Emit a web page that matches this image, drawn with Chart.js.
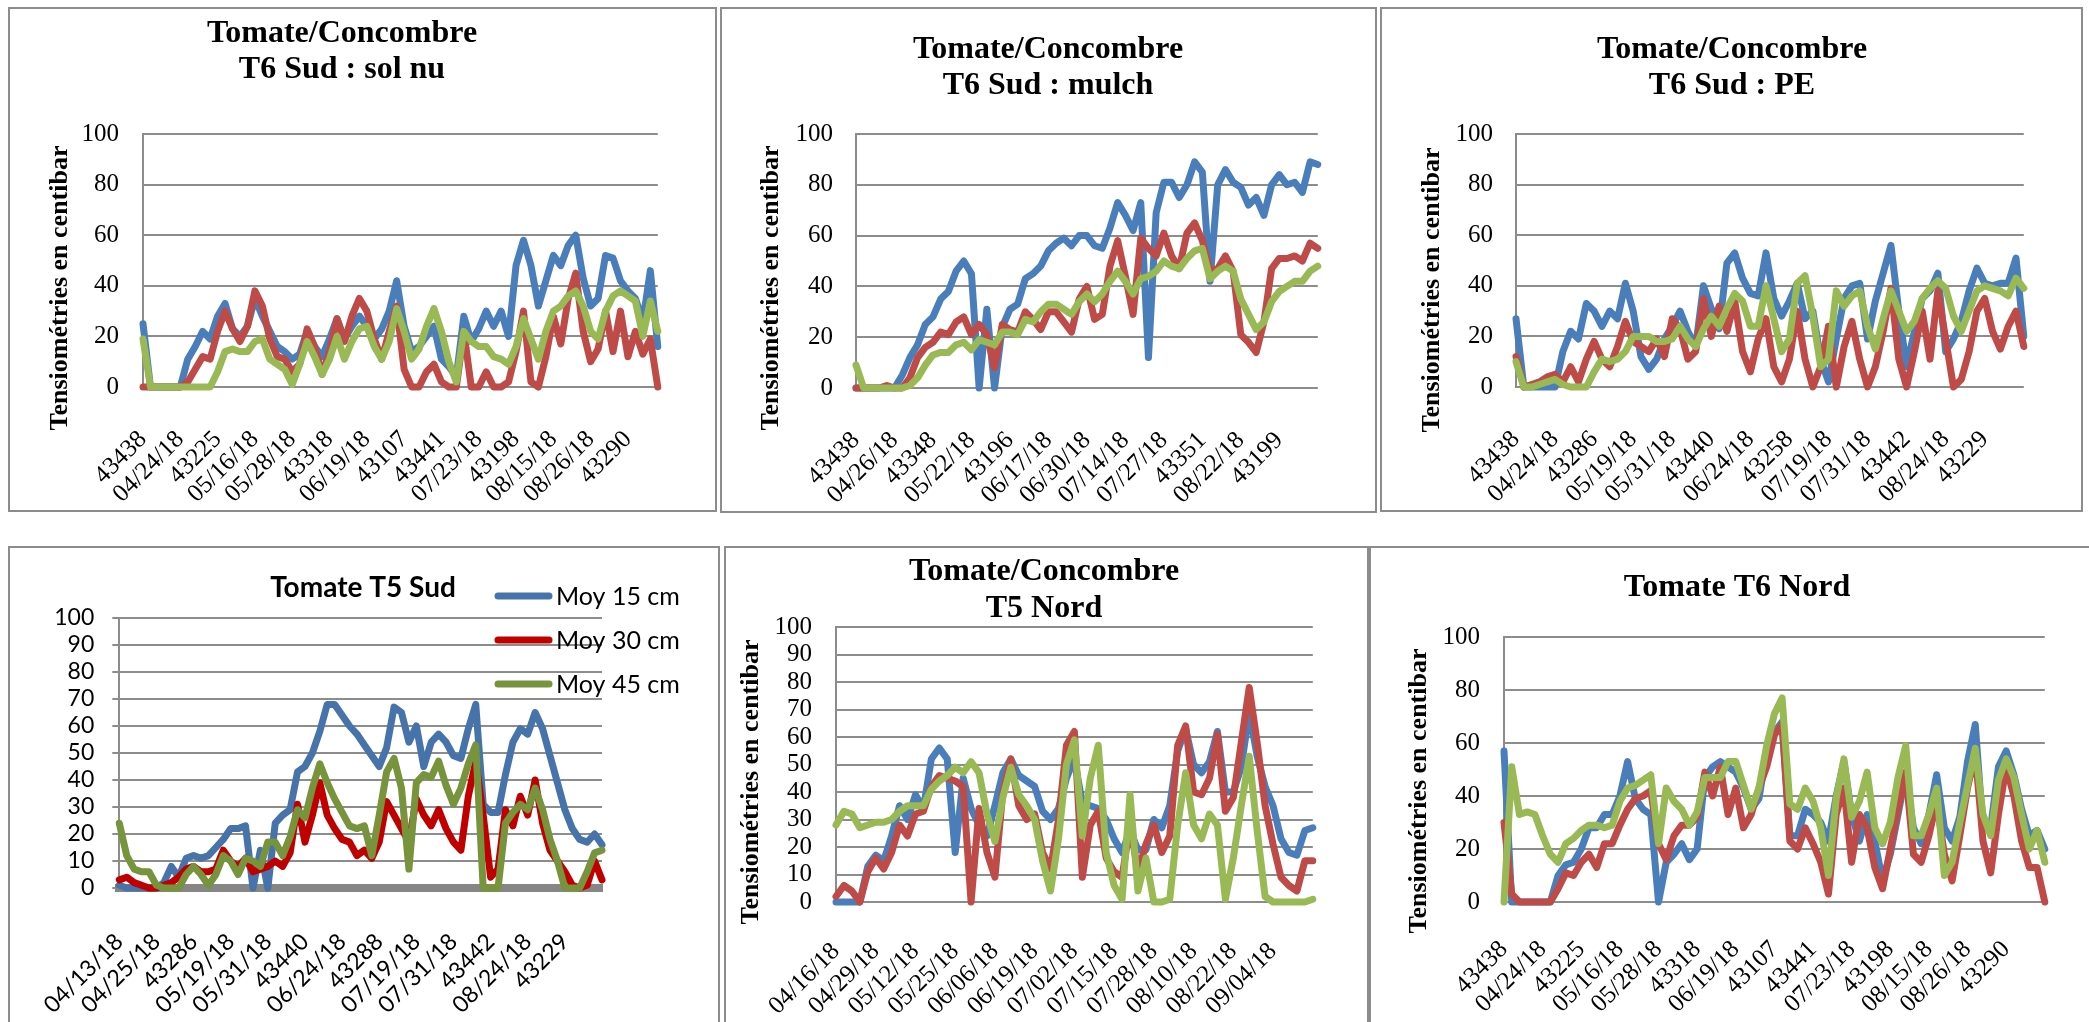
<!DOCTYPE html>
<html>
<head>
<meta charset="utf-8">
<script src="https://cdn.jsdelivr.net/npm/chart.js@4.4.0/dist/chart.umd.min.js"></script>
<style>
html, body { margin: 0; padding: 0; background: #fff; width: 2089px; height: 1022px; overflow: hidden; position: relative; }
.box { position: absolute; border: 2px solid #8c8c8c; box-sizing: border-box; }
canvas { position: absolute; }
</style>
</head>
<body>
<script>
// series names (same in every panel)
const seriesNames = ['Moy 15 cm', 'Moy 30 cm', 'Moy 45 cm']

// ---- Tomate/Concombre T6 Sud : sol nu
const p1Marks = ['43438', '04/24/18', '43225', '05/16/18', '05/28/18', '43318', '06/19/18', '43107', '43441', '07/23/18', '43198', '08/15/18', '08/26/18', '43290']
const p1Moy15 = [25, 0, 0, 0, 0, 0, 11, 16, 22, 19, 28, 33, 23, 20, 24, 35, 28, 22, 16, 14, 11, 13, 22, 16, 12, 19, 27, 19, 24, 28, 24, 19, 23, 30, 42, 24, 14, 16, 20, 24, 11, 8, 4, 28, 18, 23, 30, 24, 30, 20, 48, 58, 48, 32, 42, 52, 48, 56, 60, 43, 32, 35, 52, 51, 42, 38, 35, 26, 46, 16]
const p1Moy30 = [0, 0, 0, 0, 0, 0, 2, 7, 12, 11, 22, 30, 23, 18, 24, 38, 32, 19, 12, 11, 6, 9, 23, 16, 5, 14, 27, 18, 28, 35, 30, 19, 11, 22, 32, 7, 0, 0, 6, 9, 2, 0, 0, 22, 0, 0, 6, 0, 0, 2, 14, 30, 2, 0, 12, 28, 17, 35, 45, 22, 10, 15, 30, 14, 30, 12, 22, 13, 19, 0]
const p1Moy45 = [19, 0, 0, 0, 0, 0, 0, 0, 0, 0, 6, 14, 15, 14, 14, 18, 19, 11, 9, 7, 1, 9, 18, 12, 5, 11, 20, 11, 18, 23, 24, 16, 11, 18, 31, 22, 11, 15, 24, 31, 22, 10, 2, 22, 18, 16, 16, 12, 11, 9, 16, 27, 19, 11, 22, 30, 32, 36, 38, 32, 22, 19, 30, 36, 38, 36, 34, 20, 34, 22]

// ---- Tomate/Concombre T6 Sud : mulch
const p2Marks = ['43438', '04/26/18', '43348', '05/22/18', '43196', '06/17/18', '06/30/18', '07/14/18', '07/27/18', '43351', '08/22/18', '43199']
const p2Moy15 = [0, 0, 0, 0, 0, 0, 5, 12, 17, 25, 28, 35, 38, 46, 50, 45, 0, 31, 0, 24, 31, 33, 43, 45, 48, 54, 57, 59, 56, 60, 60, 56, 55, 63, 73, 68, 62, 73, 12, 69, 81, 81, 75, 80, 89, 85, 42, 80, 86, 81, 79, 72, 75, 68, 80, 84, 80, 81, 77, 89, 88]
const p2Moy30 = [0, 0, 0, 0, 1, 0, 0, 4, 12, 16, 18, 22, 21, 26, 28, 21, 25, 21, 8, 25, 23, 22, 30, 27, 23, 30, 30, 26, 22, 35, 40, 27, 29, 48, 58, 44, 29, 59, 55, 52, 61, 52, 47, 61, 65, 58, 46, 47, 52, 46, 21, 18, 14, 26, 47, 51, 51, 52, 50, 57, 55]
const p2Moy45 = [9, 0, 0, 0, 0, 0, 0, 1, 4, 9, 13, 14, 14, 17, 18, 15, 19, 18, 17, 22, 22, 21, 27, 26, 30, 33, 33, 31, 29, 34, 37, 34, 37, 42, 46, 42, 37, 43, 44, 46, 50, 48, 47, 51, 54, 55, 43, 46, 48, 46, 35, 29, 23, 26, 34, 38, 40, 42, 42, 46, 48]

// ---- Tomate/Concombre T6 Sud : PE
const p3Marks = ['43438', '04/24/18', '43286', '05/19/18', '05/31/18', '43440', '06/24/18', '43258', '07/19/18', '07/31/18', '43442', '08/24/18', '43229']
const p3Moy15 = [27, 0, 0, 0, 0, 0, 14, 22, 19, 33, 30, 24, 30, 27, 41, 30, 12, 7, 11, 19, 24, 30, 22, 16, 40, 31, 23, 49, 53, 43, 37, 36, 53, 35, 28, 34, 41, 27, 30, 11, 2, 19, 35, 40, 41, 19, 34, 45, 56, 30, 8, 22, 35, 38, 45, 14, 19, 26, 38, 47, 41, 40, 41, 41, 51, 20]
const p3Moy30 = [12, 0, 1, 2, 4, 5, 2, 8, 2, 11, 18, 11, 8, 16, 26, 18, 16, 14, 19, 12, 27, 23, 11, 14, 35, 20, 32, 22, 34, 14, 6, 19, 27, 8, 2, 11, 30, 11, 0, 8, 24, 0, 16, 26, 11, 0, 8, 22, 39, 11, 0, 14, 30, 11, 38, 19, 0, 3, 14, 30, 35, 22, 15, 24, 30, 16]
const p3Moy45 = [10, 0, 0, 1, 2, 3, 1, 0, 0, 0, 6, 11, 10, 11, 14, 20, 20, 20, 18, 18, 19, 24, 19, 16, 23, 28, 24, 31, 37, 34, 24, 24, 40, 27, 14, 19, 41, 44, 28, 8, 11, 38, 32, 36, 38, 24, 15, 27, 38, 30, 22, 26, 35, 39, 42, 39, 28, 22, 30, 38, 40, 39, 38, 36, 43, 39]

// ---- Tomate T5 Sud
const p4Marks = ['04/13/18', '04/25/18', '43286', '05/19/18', '05/31/18', '43440', '06/24/18', '43288', '07/19/18', '07/31/18', '43442', '08/24/18', '43229']
const p4Moy15 = [1, 0, 0, 0, 0, 0, 2, 8, 4, 11, 12, 11, 12, 15, 18, 22, 22, 23, 0, 14, 0, 24, 27, 29, 43, 45, 50, 58, 68, 68, 64, 60, 57, 53, 49, 45, 52, 67, 65, 54, 60, 45, 54, 57, 54, 49, 48, 59, 68, 31, 28, 28, 42, 54, 59, 57, 65, 59, 49, 39, 29, 22, 18, 17, 20, 16]
const p4Moy30 = [3, 4, 2, 1, 0, 0, 1, 2, 4, 7, 8, 6, 6, 7, 14, 10, 8, 11, 6, 7, 8, 10, 8, 13, 31, 17, 27, 39, 27, 22, 18, 17, 12, 14, 11, 17, 32, 27, 22, 17, 33, 27, 23, 29, 22, 17, 14, 34, 47, 27, 4, 7, 29, 23, 34, 27, 40, 24, 14, 10, 6, 1, 0, 1, 10, 3]
const p4Moy45 = [24, 12, 7, 6, 6, 1, 0, 0, 0, 5, 8, 5, 1, 5, 12, 10, 5, 11, 10, 8, 17, 17, 12, 19, 29, 26, 37, 46, 39, 33, 28, 23, 22, 23, 12, 27, 43, 48, 37, 7, 39, 42, 41, 47, 38, 31, 37, 46, 53, 0, 0, 0, 24, 28, 31, 29, 37, 29, 18, 10, 0, 0, 0, 6, 13, 14]

// ---- Tomate/Concombre T5 Nord
const p5Marks = ['04/16/18', '04/29/18', '05/12/18', '05/25/18', '06/06/18', '06/19/18', '07/02/18', '07/15/18', '07/28/18', '08/10/18', '08/22/18', '09/04/18']
const p5Moy15 = [0, 0, 0, 0, 13, 17, 15, 24, 35, 30, 39, 34, 52, 56, 52, 18, 45, 34, 28, 24, 35, 47, 52, 46, 44, 42, 33, 30, 34, 45, 52, 36, 35, 34, 30, 23, 18, 26, 19, 19, 30, 27, 35, 55, 63, 50, 47, 51, 62, 40, 40, 49, 69, 53, 42, 35, 23, 18, 17, 26, 27]
const p5Moy30 = [2, 6, 4, 0, 11, 16, 12, 18, 28, 24, 32, 33, 42, 46, 45, 44, 42, 0, 34, 18, 9, 40, 52, 35, 30, 32, 18, 12, 30, 57, 62, 9, 28, 33, 16, 11, 9, 28, 11, 21, 28, 18, 24, 57, 64, 40, 39, 45, 61, 33, 38, 58, 78, 58, 35, 21, 9, 6, 4, 15, 15]
const p5Moy45 = [28, 33, 32, 27, 28, 29, 29, 30, 33, 35, 35, 35, 41, 44, 46, 49, 47, 51, 47, 32, 22, 38, 49, 39, 35, 30, 15, 4, 23, 50, 59, 24, 45, 57, 18, 6, 1, 39, 4, 16, 0, 0, 1, 28, 47, 28, 23, 32, 28, 1, 16, 35, 53, 26, 2, 0, 0, 0, 0, 0, 1]

// ---- Tomate T6 Nord
const p6Marks = ['43438', '04/24/18', '43225', '05/16/18', '05/28/18', '43318', '06/19/18', '43107', '43441', '07/23/18', '43198', '08/15/18', '08/26/18', '43290']
const p6Moy15 = [57, 0, 0, 0, 0, 0, 0, 10, 14, 15, 20, 28, 28, 33, 33, 40, 53, 39, 35, 33, 0, 15, 18, 22, 16, 20, 47, 51, 53, 51, 49, 43, 35, 39, 57, 64, 68, 25, 25, 35, 33, 30, 23, 40, 53, 33, 23, 33, 23, 8, 18, 33, 48, 28, 22, 33, 48, 28, 23, 32, 53, 67, 28, 28, 51, 57, 48, 35, 25, 27, 20]
const p6Moy30 = [30, 3, 0, 0, 0, 0, 0, 5, 11, 10, 15, 18, 13, 22, 22, 29, 35, 39, 40, 42, 22, 16, 25, 29, 29, 32, 49, 40, 51, 33, 43, 28, 33, 43, 51, 63, 67, 23, 20, 28, 22, 15, 3, 33, 43, 15, 33, 28, 13, 5, 20, 35, 49, 18, 15, 25, 38, 18, 8, 25, 43, 56, 23, 11, 33, 51, 40, 23, 13, 13, 0]
const p6Moy45 = [0, 51, 33, 34, 33, 25, 18, 15, 22, 24, 27, 29, 29, 28, 29, 38, 43, 44, 46, 48, 22, 43, 38, 35, 29, 34, 47, 47, 47, 53, 53, 44, 35, 43, 59, 71, 77, 37, 35, 43, 38, 28, 10, 39, 54, 32, 38, 49, 28, 22, 30, 47, 59, 25, 25, 33, 43, 10, 15, 30, 44, 58, 33, 25, 46, 54, 47, 33, 20, 27, 15]

// ------------------------------------------------------------------
const SERIF = '"Liberation Serif", "Times New Roman", serif'
const SANS = 'Lato, "Open Sans", sans-serif'
const GRID = '#8c8c8c'
const officeColors = ['#4A7EBB', '#BE4B48', '#98B954']
const t5Colors = ['#4673AA', '#C00000', '#77933C']

// one label every 5 points, empty strings between
function tickLabels(count, marks) {
    const out = []
    for (let i = 0; i < count; i++) {
        const k = i / 5
        out.push(i % 5 === 0 && k < marks.length ? marks[k] : '')
    }
    return out
}

// titles, rotated axis title and the overlay legend of the T5 Sud chart
const panelText = {
    id: 'panelText',
    afterDraw(chart, args, opts) {
        const ctx = chart.ctx
        ctx.save()
        ctx.fillStyle = '#000'
        ctx.textAlign = 'center'
        ctx.textBaseline = 'alphabetic'
        for (const t of opts.lines || []) {
            ctx.font = t.font
            ctx.fillText(t.text, t.x, t.y)
        }
        if (opts.yTitle) {
            ctx.save()
            ctx.translate(opts.yTitle.x, opts.yTitle.y)
            ctx.rotate(-Math.PI / 2)
            ctx.font = 'bold 26px ' + SERIF
            ctx.textBaseline = 'middle'
            ctx.fillText(opts.yTitle.text, 0, 0)
            ctx.restore()
        }
        if (opts.legend) {
            const lg = opts.legend
            chart.data.datasets.forEach((ds, i) => {
                const y = lg.y + i * lg.gap
                ctx.strokeStyle = ds.borderColor
                ctx.lineWidth = 7
                ctx.lineCap = 'round'
                ctx.beginPath()
                ctx.moveTo(lg.x, y)
                ctx.lineTo(lg.x + 51, y)
                ctx.stroke()
                ctx.font = '25px ' + SANS
                ctx.textAlign = 'left'
                ctx.textBaseline = 'middle'
                ctx.fillText(ds.label, lg.x + 58, y + 1)
            })
        }
        ctx.restore()
    }
}

function buildPanel(p) {
    const box = document.createElement('div')
    box.className = 'box'
    box.style.left = p.left + 'px'
    box.style.top = p.top + 'px'
    box.style.width = p.width + 'px'
    box.style.height = p.height + 'px'
    document.body.appendChild(box)

    const cv = document.createElement('canvas')
    cv.width = p.width
    cv.height = p.height
    cv.style.left = p.left + 'px'
    cv.style.top = p.top + 'px'
    cv.style.width = p.width + 'px'
    cv.style.height = p.height + 'px'
    document.body.appendChild(cv)

    const n = p.series[0].length
    const datasets = p.series.map((data, i) => ({
        label: seriesNames[i],
        data: data,
        borderColor: p.colors[i],
        backgroundColor: p.colors[i],
        borderWidth: 7,
        pointRadius: 0,
        tension: 0,
        fill: false,
        clip: false,
        borderJoinStyle: 'round',
        borderCapStyle: 'round',
        order: 3 - i
    }))

    new Chart(cv.getContext('2d'), {
        type: 'line',
        data: { labels: tickLabels(n, p.marks), datasets: datasets },
        plugins: [panelText],
        options: {
            responsive: false,
            animation: false,
            events: [],
            layout: { padding: { left: 0, top: p.plot[1], right: p.width - p.plot[2], bottom: 0 } },
            plugins: {
                legend: { display: false },
                title: { display: false },
                tooltip: { enabled: false },
                panelText: { lines: p.titles, yTitle: p.yTitle, legend: p.legend }
            },
            scales: {
                x: {
                    type: 'category',
                    ticks: { autoSkip: false, maxRotation: 45, minRotation: 45, color: '#000', padding: p.xPad, font: { family: p.family, size: p.xSize } },
                    grid: { display: false, drawTicks: false },
                    border: p.xBorder ? { display: true, color: '#868686', width: 8 } : { display: false },
                    afterFit: s => { s.height = p.height - p.plot[3] }
                },
                y: {
                    min: 0,
                    max: 100,
                    ticks: { stepSize: p.step, autoSkip: false, color: '#000', padding: p.yPad, font: { family: p.family, size: p.ySize } },
                    grid: { color: GRID, lineWidth: 2, drawTicks: p.tickLen > 0, tickLength: p.tickLen },
                    border: { display: true, color: GRID, width: 2 },
                    afterFit: s => { s.width = p.plot[0] }
                }
            }
        }
    })
}

const titleFont = 'bold 32px ' + SERIF
const yTitleText = 'Tensiométries en centibar'

buildPanel({
    left: 8, top: 7, width: 709, height: 505, plot: [135, 127, 662, 380],
    series: [p1Moy15, p1Moy30, p1Moy45], marks: p1Marks, colors: officeColors,
    family: SERIF, xSize: 25, ySize: 25, xPad: 38, yPad: 24, step: 20, tickLen: 0,
    titles: [{ text: 'Tomate/Concombre', x: 334, y: 35, font: titleFont }, { text: 'T6 Sud : sol nu', x: 334, y: 71, font: titleFont }],
    yTitle: { text: yTitleText, x: 52, y: 281 }
})

buildPanel({
    left: 720, top: 7, width: 657, height: 506, plot: [136, 127, 608, 381],
    series: [p2Moy15, p2Moy30, p2Moy45], marks: p2Marks, colors: officeColors,
    family: SERIF, xSize: 25, ySize: 25, xPad: 38, yPad: 23, step: 20, tickLen: 0,
    titles: [{ text: 'Tomate/Concombre', x: 328, y: 51, font: titleFont }, { text: 'T6 Sud : mulch', x: 328, y: 87, font: titleFont }],
    yTitle: { text: yTitleText, x: 51, y: 281 }
})

buildPanel({
    left: 1380, top: 7, width: 703, height: 505, plot: [136, 127, 655, 380],
    series: [p3Moy15, p3Moy30, p3Moy45], marks: p3Marks, colors: officeColors,
    family: SERIF, xSize: 25, ySize: 25, xPad: 38, yPad: 23, step: 20, tickLen: 0,
    titles: [{ text: 'Tomate/Concombre', x: 352, y: 51, font: titleFont }, { text: 'T6 Sud : PE', x: 352, y: 87, font: titleFont }],
    yTitle: { text: yTitleText, x: 52, y: 283 }
})

buildPanel({
    left: 8, top: 546, width: 712, height: 480, plot: [79, 72, 594, 342],
    series: [p4Moy15, p4Moy30, p4Moy45], marks: p4Marks, colors: t5Colors,
    family: SANS, xSize: 23, ySize: 23, xPad: 40, yPad: 18, step: 10, tickLen: 7, xBorder: true,
    titles: [{ text: 'Tomate T5 Sud', x: 355, y: 51, font: 'bold 28px ' + SANS }],
    legend: { x: 490, y: 50, gap: 44 }
})

buildPanel({
    left: 724, top: 546, width: 645, height: 480, plot: [112, 81, 595, 356],
    series: [p5Moy15, p5Moy30, p5Moy45], marks: p5Marks, colors: officeColors,
    family: SERIF, xSize: 25, ySize: 25, xPad: 35, yPad: 24, step: 10, tickLen: 0,
    titles: [{ text: 'Tomate/Concombre', x: 320, y: 34, font: titleFont }, { text: 'T5 Nord', x: 320, y: 71, font: titleFont }],
    yTitle: { text: yTitleText, x: 27, y: 236 }
})

buildPanel({
    left: 1369, top: 546, width: 730, height: 480, plot: [135, 91, 689, 356],
    series: [p6Moy15, p6Moy30, p6Moy45], marks: p6Marks, colors: officeColors,
    family: SERIF, xSize: 25, ySize: 25, xPad: 33, yPad: 24, step: 20, tickLen: 0,
    titles: [{ text: 'Tomate T6 Nord', x: 368, y: 50, font: titleFont }],
    yTitle: { text: yTitleText, x: 50, y: 245 }
})
</script>
</body>
</html>
